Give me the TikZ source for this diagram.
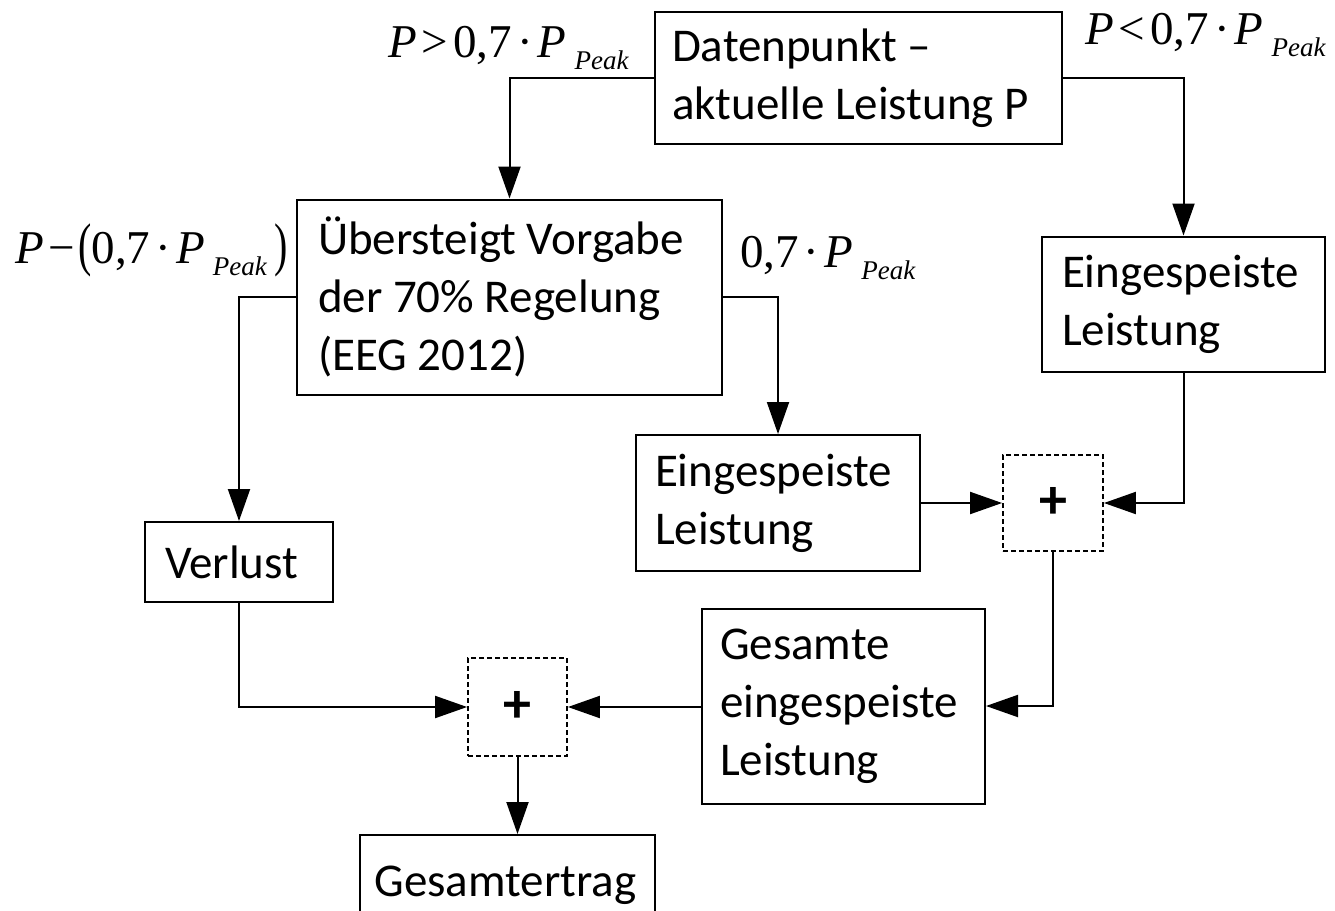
\documentclass[tikz,border=0pt]{standalone}
\usepackage{fontspec}
\setmainfont{Carlito}
\newfontfamily\mathserif{Liberation Serif}
\usetikzlibrary{arrows.meta}
\newcommand{\pkk}{\hspace{8pt}\raisebox{-12pt}{\fontsize{27}{27}\selectfont\itshape Peak}}
\newcommand{\tsp}{\hspace{5pt}}
\newcommand{\bigpar}[1]{\scalebox{0.85}[1.25]{\raisebox{-1pt}{#1}}}
\begin{document}
\begin{tikzpicture}[x=1pt,y=-1pt,
  box/.style={draw,line width=2pt,inner sep=0pt,align=flush left,font=\fontsize{47}{58}\selectfont},
  sumbox/.style={draw,line width=1.8pt,dash pattern=on 5pt off 3pt,inner sep=0pt,font=\fontsize{56}{58}\selectfont\bfseries},
  arr/.style={line width=2pt,-{Triangle[length=32pt,width=22pt]}},
  lbl/.style={inner sep=0pt,anchor=base west,font=\mathserif\fontsize{47}{47}\selectfont}]
\useasboundingbox (0,0) rectangle (1335,910);
\clip (0,0) rectangle (1335,910);
\fill[white] (0,0) rectangle (1335,910);

\node[box,text width=373pt,minimum width=407pt,minimum height=132pt] (dat) at (858.5,78) {Datenpunkt –\\aktuelle Leistung P};
\node[box,text width=383pt,minimum width=425pt,minimum height=195pt] (ueb) at (509.5,297) {Übersteigt Vorgabe\\der 70\% Regelung\\(EEG 2012)};
\node[box,text width=243pt,minimum width=283pt,minimum height=135pt] (einR) at (1183.5,304) {Eingespeiste\\Leistung};
\node[box,text width=246pt,minimum width=284pt,minimum height=136pt] (einM) at (778,503) {Eingespeiste\\Leistung};
\node[sumbox,minimum width=100pt,minimum height=96pt] (plusR) at (1053,503) {+};
\node[box,text width=148pt,minimum width=188pt,minimum height=80pt] (verl) at (239,562) {Verlust};
\node[box,text width=247pt,minimum width=283pt,minimum height=195pt] (ges) at (843.5,706) {Gesamte\\eingespeiste\\Leistung};
\node[sumbox,minimum width=99pt,minimum height=98pt] (plusL) at (517.5,707) {+};
\node[box,text width=266pt,minimum width=295pt,minimum height=100pt] (gesE) at (507.5,885) {Gesamtertrag};

\node[lbl] (l1) at (388,57) {\textit{P}\tsp>\tsp0,7\tsp·\tsp\textit{P}\pkk};
\node[lbl] (l2) at (1085,44) {\textit{P}\tsp<\tsp0,7\tsp·\tsp\textit{P}\pkk};
\node[lbl] (l3) at (15,263) {\textit{P}\tsp−\hspace{3pt}\bigpar{(}0,7\tsp·\tsp\textit{P}\pkk\hspace{8pt}\bigpar{)}};
\node[lbl] (l4) at (740,267) {0,7\tsp·\tsp\textit{P}\pkk};

\draw[arr] (dat.west) -| (ueb.north);
\draw[arr] (dat.east) -| (einR.north);
\draw[arr] (ueb.west) -| (verl.north);
\draw[arr] (ueb.east) -| (einM.north);
\draw[arr] (einM.east) -- (plusR.west);
\draw[arr] (einR.south) |- (plusR.east);
\draw[arr] (plusR.south) |- (ges.east);
\draw[arr] (ges.west |- plusL.east) -- (plusL.east);
\draw[arr] (verl.south) |- (plusL.west);
\draw[arr] (plusL.south) -- (plusL.south |- gesE.north);
\end{tikzpicture}
\end{document}
